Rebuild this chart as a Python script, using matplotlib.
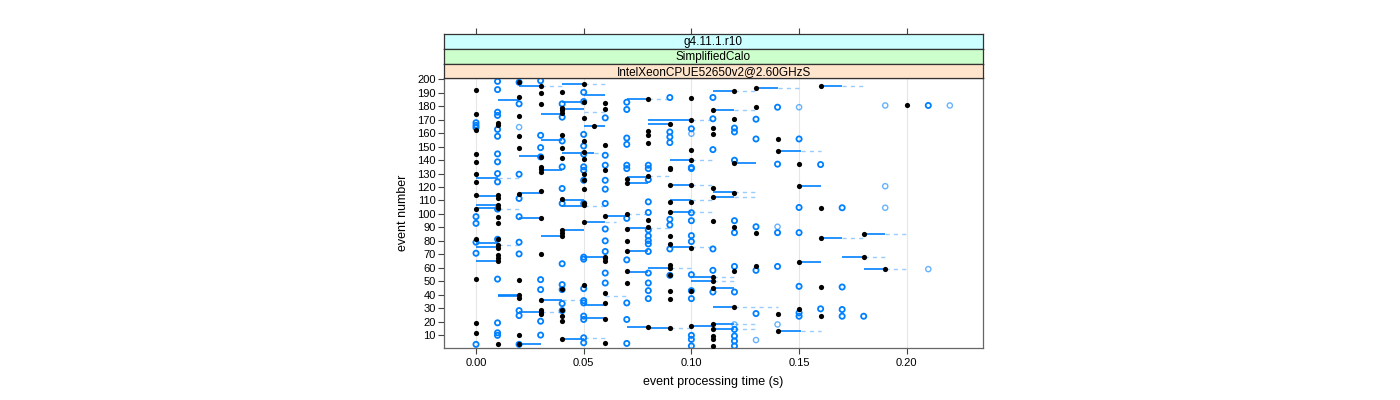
"""Event processing time per event, lattice-style dot plot with one panel."""

import matplotlib
matplotlib.use("Agg")
import matplotlib.pyplot as plt

plt.rcParams["font.family"] = ["Liberation Sans", "DejaVu Sans"]

BLUE = "#0080ff"
STRIPS = ["g4.11.1.r10", "SimplifiedCalo", "IntelXeonCPUE52650v2@2.60GHzS"]
STRIP_COLORS = ["#ccffff", "#ccffcc", "#ffe5cc"]
X_TICKS = [0.00, 0.05, 0.10, 0.15, 0.20]
Y_TICKS = list(range(10, 201, 10))

# black dots: time column -> event numbers
black_cols = [0.00, 0.01, 0.02, 0.03, 0.04, 0.05, 0.055, 0.06, 0.07, 0.08, 0.09,
              0.10, 0.11, 0.12, 0.13, 0.14, 0.15, 0.16, 0.18, 0.19, 0.20]
black_events = [
    [192.4, 174.4, 162, 144.6, 138.7, 130, 123.8, 114, 103.6, 81.2, 51.9, 19.1, 11.7],
    [167.8, 165.8, 114, 111.5, 106.6, 104.1, 98, 93, 81.2, 77, 74.5, 69.6, 67.2, 65, 3.1],
    [197.8, 187.2, 172.4, 157.7, 148.8, 114.7, 51.2, 40.1, 37.6, 10, 3.1],
    [194.9, 189.7, 181.5, 142.4, 135, 133.7, 131.2, 116.7, 96.7, 70.1, 36.4, 29, 27, 25.3],
    [190.4, 178.8, 176.9, 175.1, 158.4, 149.3, 141.9, 111, 88.1, 85.6, 83.3, 44.5, 29,
     24.1, 20.3, 7.3],
    [196.6, 183.5, 171.5, 154.2, 146, 141.1, 130, 125, 118.4, 108.3, 106.6, 93.8, 47.5],
    [165.5],
    [182.3, 177.6, 151, 132.4, 98.7, 67.9, 67.2, 65, 41.3, 33.9, 21.6, 3.8],
    [125.8, 123.1, 99.7, 88.8, 80.2, 72.8, 57.3, 48.7],
    [185.5, 161.6, 158.4, 153, 128, 95.5, 90.5, 16.2],
    [166.5, 134.5, 133.7, 121.8, 109, 101.6, 83.6, 77.7, 62.2, 59.8, 54.4, 43, 37.1, 15.4],
    [186.5, 169.5, 147.8, 139.9, 121.8, 109, 74.5, 43, 17.1],
    [176.9, 163.8, 159.6, 119.6, 112.7, 95, 53.1, 49.9, 45, 17.9, 14.2, 9.3, 6.8, 1.9],
    [191.6, 170.4, 137.9, 115.7, 90.5, 57.8, 30.7],
    [193.4, 179.3, 86.1, 61],
    [155.7, 146.8, 26, 13],
    [137, 120.6, 64, 29.5],
    [195.3, 104.6, 81.9, 45.7, 24.5],
    [84.9, 68.2],
    [59],
    [180.6],
]

# open blue circles: time column -> event numbers
blue_cols = [0.00, 0.01, 0.02, 0.03, 0.04, 0.05, 0.06, 0.07, 0.08, 0.09, 0.10,
             0.11, 0.12, 0.13, 0.14, 0.15, 0.16, 0.17, 0.18, 0.21]
blue_events = [
    [167.8, 165.8, 164.1, 98, 93, 79, 70.8, 3.1],
    [198.5, 192.4, 175.6, 173.2, 162.8, 157.7, 144.6, 138.7, 130, 123.8, 103.6, 81.2,
     51.6, 19.1, 11.7, 9.8],
    [197.8, 181.8, 129.5, 111.5, 98, 79, 70.3, 28.2, 24.5, 3.1],
    [199, 158.4, 149.3, 142.4, 51.2, 43.8, 20.3, 10],
    [181.8, 171.9, 154.2, 135, 118.9, 107.8, 63, 47.5, 43.8, 33.4, 28.2],
    [190.4, 183.5, 159.1, 150.5, 144.4, 135, 132.4, 125, 107.8, 67.9, 66.4, 44.5, 35.6,
     33.9, 24.1, 21.6, 8, 4.3],
    [171.4, 143.6, 136.2, 125, 118.4, 107.8, 88.8, 80, 72.1, 56.1, 48.7],
    [183, 177.6, 156.4, 151.7, 136.2, 133.7, 96.7, 65.9, 33.9, 21.6, 3.8],
    [136.2, 133.7, 125.5, 109, 101.1, 88.1, 83.6, 80.2, 77.7, 72.1, 56.1, 48.7, 43, 37.1],
    [186.5, 160.9, 157.2, 153, 96, 91.8, 74, 54.4],
    [163.3, 134.5, 133.7, 100.9, 95, 83.9, 79.5, 54.9, 43, 37.1, 9.8, 6.8, 1.9],
    [186.5, 170.7, 147.8, 74, 58.1, 42],
    [163.8, 160.9, 139.9, 95, 86.1, 61, 42, 14.2, 9.3, 5.6, 1.9],
    [170.4, 155.7, 90.5, 58.1, 26],
    [179.3, 137, 86.1, 61],
    [155.7, 104.8, 86.1, 46.2, 26.5, 24],
    [136.7, 29.5],
    [104.6, 45.7, 29, 24],
    [24],
    [180.6],
]

# fainter open circles
faint_cols = [0.02, 0.10, 0.12, 0.13, 0.14, 0.15, 0.19, 0.21, 0.22]
faint_events = [
    [164.5],
    [159.6],
    [17.9],
    [6.3],
    [90.5, 17.9],
    [179.3],
    [180.6, 120.6, 104.6],
    [59],
    [180.6],
]

# solid segments (event, from, to)
solid_event = [184.8, 194.8, 142.9, 173.9, 154.7, 183.5, 178, 196.6, 188.7, 165.5,
               145.3, 185.5, 166.5, 139.9, 170, 191.6, 176.9, 137.9, 193.4, 146.8,
               195.3, 126.8, 113.5, 107, 104.5, 78.2, 75.8, 115.2, 97.2, 132.5, 110.3,
               106.1, 88.1, 83.3, 93.8, 98.7, 67.9, 127.5, 123.1, 89.8, 72.8, 121.8,
               110.3, 101.6, 75.8, 116.4, 112.7, 120.6, 81.9, 84.9, 68.2, 65, 40, 39,
               27, 3.1, 36.4, 7.3, 32.7, 22.8, 56.8, 16.2, 59.8, 15.4, 53.1, 49.9, 45,
               17.1, 17.9, 14.2, 30.7, 13, 64, 59]
solid_from = [0.01, 0.02, 0.02, 0.03, 0.03, 0.04, 0.04, 0.04, 0.05, 0.05,
              0.04, 0.07, 0.08, 0.09, 0.08, 0.11, 0.11, 0.12, 0.13, 0.14,
              0.16, 0.00, 0.00, 0.00, 0.00, 0.00, 0.00, 0.02, 0.02, 0.03, 0.04,
              0.04, 0.04, 0.03, 0.05, 0.06, 0.05, 0.07, 0.07, 0.07, 0.07, 0.09,
              0.09, 0.09, 0.09, 0.11, 0.11, 0.15, 0.16, 0.18, 0.17, 0.00, 0.01, 0.01,
              0.02, 0.02, 0.03, 0.04, 0.05, 0.05, 0.07, 0.07, 0.08, 0.08, 0.10, 0.10, 0.11,
              0.10, 0.11, 0.11, 0.11, 0.14, 0.15, 0.18]
solid_to = [0.02, 0.03, 0.03, 0.04, 0.04, 0.05, 0.05, 0.05, 0.06, 0.06,
            0.055, 0.08, 0.09, 0.10, 0.10, 0.12, 0.12, 0.13, 0.14, 0.151,
            0.17, 0.01, 0.01, 0.01, 0.01, 0.01, 0.01, 0.03, 0.03, 0.04, 0.05,
            0.05, 0.05, 0.04, 0.06, 0.07, 0.06, 0.08, 0.08, 0.08, 0.08, 0.10,
            0.10, 0.10, 0.10, 0.12, 0.12, 0.16, 0.17, 0.19, 0.18, 0.01, 0.02, 0.02,
            0.03, 0.03, 0.04, 0.05, 0.06, 0.06, 0.08, 0.08, 0.09, 0.09, 0.11, 0.11, 0.12,
            0.11, 0.12, 0.12, 0.12, 0.151, 0.16, 0.19]

# dashed segments (event, from, to)
dashed_event = [194.8, 196.6, 175.6, 145.3, 185.5, 170, 139.9, 191.6, 176.9, 193.4,
                146.8, 195.3, 126.8, 103.6, 77.2, 106.1, 93.8, 128, 99.7, 89.8, 121.8,
                110.3, 101.6, 75.8, 116.4, 112.7, 81.9, 84.9, 68.2, 36.4, 27, 8, 39,
                59.8, 15.4, 53.1, 49.9, 17.9, 14.2, 30.7, 13, 59]
dashed_from = [0.03, 0.05, 0.05, 0.055, 0.08, 0.10, 0.10, 0.12, 0.12, 0.14,
               0.151, 0.17, 0.01, 0.01, 0.01, 0.05, 0.06, 0.08, 0.07, 0.08, 0.10,
               0.10, 0.10, 0.10, 0.12, 0.12, 0.17, 0.19, 0.18, 0.04, 0.03, 0.05, 0.06,
               0.09, 0.09, 0.11, 0.11, 0.12, 0.12, 0.12, 0.151, 0.19]
dashed_to = [0.04, 0.06, 0.06, 0.06, 0.09, 0.11, 0.11, 0.13, 0.13, 0.15,
             0.16, 0.18, 0.02, 0.02, 0.02, 0.06, 0.065, 0.09, 0.08, 0.09, 0.11,
             0.11, 0.11, 0.11, 0.13, 0.13, 0.18, 0.20, 0.19, 0.05, 0.04, 0.06, 0.07,
             0.10, 0.10, 0.12, 0.12, 0.13, 0.13, 0.14, 0.16, 0.20]


def flatten(cols, events):
    xs, ys = [], []
    for c, evs in zip(cols, events):
        xs += [c] * len(evs)
        ys += evs
    return xs, ys


fig = plt.figure(figsize=(14, 4), dpi=100)
ax = fig.add_axes([444 / 1400, 0.13, 539 / 1400, 0.675])
xlim = (-0.01486, 0.2354)
ylim = (0.4, 201)

for x in X_TICKS:
    ax.axvline(x, color="#e6e6e6", lw=0.8, zorder=0)

ax.hlines(dashed_event, dashed_from, dashed_to, colors=BLUE, alpha=0.4,
          lw=1.0, linestyles=(0, (3, 3)), zorder=1)
ax.hlines(solid_event, solid_from, solid_to, colors=BLUE, alpha=0.85,
          lw=1.4, zorder=2)

fx, fy = flatten(faint_cols, faint_events)
ax.scatter(fx, fy, s=14, facecolors="none", edgecolors=BLUE, alpha=0.6,
           linewidths=1.0, zorder=3)
bx, by = flatten(blue_cols, blue_events)
ax.scatter(bx, by, s=14, facecolors="none", edgecolors=BLUE,
           linewidths=1.3, zorder=3)
kx, ky = flatten(black_cols, black_events)
ax.scatter(kx, ky, s=14, color="black", linewidths=0, zorder=4)

ax.set_xlim(xlim)
ax.set_ylim(ylim)
ax.set_xticks(X_TICKS)
ax.set_xticklabels([f"{v:.2f}" for v in X_TICKS])
ax.set_yticks(Y_TICKS)
ax.tick_params(labelsize=8, length=4, width=0.8, color="#444444", pad=3)
ax.tick_params(axis="y", pad=2)
for sp in ax.spines.values():
    sp.set_color("#666666")
    sp.set_linewidth(0.9)
ax.set_xlabel("event processing time (s)", fontsize=9, labelpad=6)
ax.set_ylabel("event number", fontsize=9, labelpad=6)

# strips on top of the panel
tops = [34, 49, 64]
for i, (label, col) in enumerate(zip(STRIPS, STRIP_COLORS)):
    bottom_px = tops[i] + 15 if i < 2 else 78
    h = (bottom_px - tops[i]) / 400
    sax = fig.add_axes([444 / 1400, 1 - bottom_px / 400, 539 / 1400, h])
    sax.set_facecolor(col)
    sax.set_xlim(xlim)
    sax.set_yticks([])
    if i == 0:
        sax.set_xticks(X_TICKS)
        sax.tick_params(axis="x", top=True, bottom=False, labeltop=False,
                        labelbottom=False, length=4, width=0.8, color="#444444")
    else:
        sax.set_xticks([])
    for sp in sax.spines.values():
        sp.set_color("#333333")
        sp.set_linewidth(0.9)
    sax.text(0.5, 0.45, label, transform=sax.transAxes, ha="center", va="center",
             fontsize=8.5)

fig.savefig("out.png", dpi=100)
